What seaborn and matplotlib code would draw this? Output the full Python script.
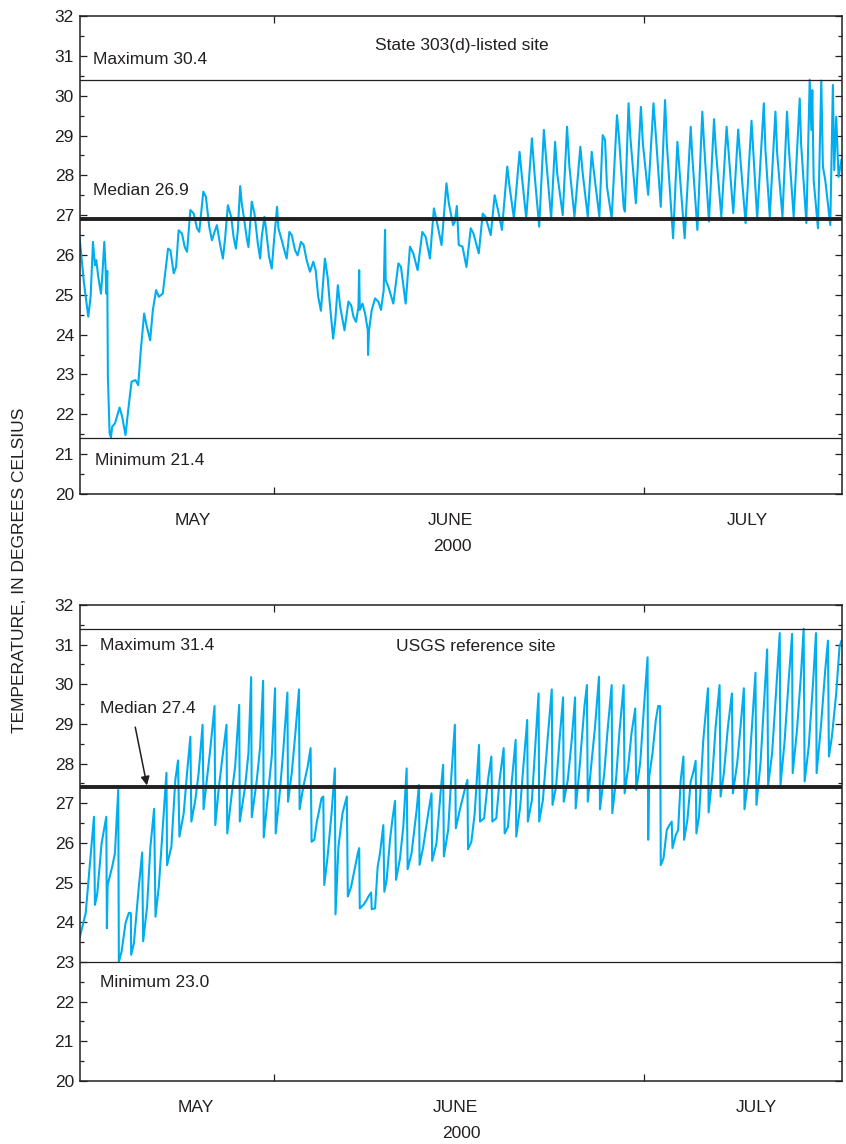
import matplotlib
matplotlib.use("Agg")
import matplotlib.pyplot as plt
import pandas as pd
import seaborn as sns
from matplotlib.ticker import MultipleLocator, FixedLocator, FixedFormatter

# Hourly water temperature, May 16 - July 17, 2000.
# Time is in days since 2000-05-16 00:00; temperature in degrees Celsius.

state_day = [
    0.20, 0.56, 0.91, 1.10, 1.29, 1.45, 1.56, 1.72, 1.94, 2.05,
    2.21, 2.31, 2.37, 2.45, 2.50, 2.64, 2.75, 2.85, 3.07, 3.45,
    3.66, 3.93, 4.15, 4.42, 4.74, 4.96, 5.17, 5.44, 5.66, 5.93,
    6.14, 6.41, 6.63, 6.95, 7.17, 7.38, 7.57, 7.84, 8.03, 8.24,
    8.51, 8.73, 8.92, 9.19, 9.46, 9.73, 9.91, 10.24, 10.45, 10.72,
    10.94, 11.15, 11.34, 11.61, 11.83, 12.02, 12.23, 12.50, 12.69, 12.88,
    13.04, 13.23, 13.36, 13.52, 13.77, 13.90, 14.17, 14.39, 14.66, 14.85,
    14.98, 15.20, 15.38, 15.57, 15.79, 16.00, 16.22, 16.33, 16.60, 16.81,
    17.00, 17.22, 17.41, 17.68, 17.89, 18.16, 18.38, 18.62, 18.89, 19.16,
    19.35, 19.56, 19.78, 20.10, 20.32, 20.50, 20.77, 20.94, 21.15, 21.34,
    21.69, 22.01, 22.23, 22.42, 22.63, 22.82, 22.88, 22.93, 23.15, 23.36,
    23.58, 23.60, 23.68, 23.90, 24.17, 24.44, 24.65, 24.87, 24.98, 25.03,
    25.25, 25.65, 26.06, 26.27, 26.65, 27.00, 27.27, 27.62, 28.00, 28.27,
    28.62, 28.94, 29.15, 29.56, 29.96, 30.15, 30.50, 30.64, 30.80, 30.96,
    31.26, 31.58, 31.93, 32.15, 32.58, 32.90, 33.12, 33.55, 33.87, 34.14,
    34.46, 34.89, 35.08, 35.43, 35.89, 36.08, 36.43, 36.89, 37.10, 37.48,
    37.86, 38.07, 38.45, 38.77, 38.94, 39.39, 39.74, 39.93, 40.34, 40.82,
    41.01, 41.42, 41.74, 41.90, 42.36, 42.63, 42.82, 42.98, 43.36, 43.79,
    43.95, 44.33, 44.43, 44.73, 44.87, 45.32, 45.73, 45.89, 46.32, 46.75,
    46.91, 47.34, 47.69, 47.83, 48.34, 48.69, 48.96, 49.28, 49.77, 49.90,
    50.31, 50.71, 50.85, 51.25, 51.66, 51.79, 52.25, 52.68, 52.87, 53.22,
    53.62, 53.76, 54.22, 54.70, 54.84, 55.16, 55.70, 55.83, 56.18, 56.64,
    56.78, 57.21, 57.58, 57.72, 58.12, 58.61, 58.72, 59.15, 59.42, 59.55,
    59.63, 59.74, 60.09, 60.36, 60.49, 60.68, 61.09, 61.30, 61.41, 61.57,
    61.76, 62.00,
]
state_temp = [
    26.46, 25.30, 24.45, 24.95, 26.33, 25.74, 25.87, 25.45, 25.03, 25.50,
    26.33, 25.70, 25.03, 25.60, 22.94, 21.52, 21.42, 21.69, 21.77, 22.17,
    21.94, 21.48, 22.11, 22.82, 22.86, 22.73, 23.61, 24.53, 24.20, 23.86,
    24.60, 25.12, 24.95, 25.03, 25.62, 26.16, 26.12, 25.54, 25.70, 26.62,
    26.54, 26.20, 26.08, 27.13, 27.04, 26.67, 26.58, 27.59, 27.46, 26.71,
    26.37, 26.58, 26.75, 26.25, 25.91, 26.46, 27.25, 26.96, 26.46, 26.16,
    26.62, 27.73, 27.29, 26.96, 26.41, 26.20, 27.34, 27.04, 26.29, 25.91,
    26.46, 26.96, 26.50, 25.96, 25.66, 26.46, 27.21, 26.67, 26.37, 26.12,
    25.91, 26.58, 26.50, 26.12, 25.99, 26.33, 26.25, 25.87, 25.58, 25.83,
    25.62, 24.95, 24.60, 25.91, 25.45, 24.78, 23.90, 24.35, 25.24, 24.70,
    24.11, 24.83, 24.74, 24.45, 24.32, 24.70, 25.62, 24.62, 24.78, 24.53,
    24.11, 23.49, 24.11, 24.62, 24.91, 24.83, 24.62, 25.12, 26.63, 25.37,
    25.20, 24.78, 25.79, 25.70, 24.78, 26.21, 26.04, 25.62, 26.58, 26.46,
    25.91, 27.17, 26.88, 26.25, 27.80, 27.30, 26.75, 26.84, 27.23, 26.25,
    26.21, 25.70, 26.67, 26.54, 26.04, 27.04, 26.96, 26.50, 27.50, 27.13,
    26.63, 28.22, 27.71, 26.92, 28.59, 27.96, 26.92, 28.93, 28.05, 26.71,
    29.14, 28.30, 26.92, 28.84, 28.05, 27.00, 29.22, 28.22, 26.96, 28.72,
    28.05, 26.96, 28.59, 28.13, 26.96, 29.01, 28.89, 27.71, 26.92, 29.51,
    28.97, 27.21, 27.09, 29.81, 28.97, 27.30, 29.72, 28.80, 27.51, 29.81,
    29.14, 27.21, 29.89, 28.80, 26.42, 28.84, 27.71, 26.42, 29.22, 28.47,
    26.63, 29.60, 28.80, 26.84, 29.41, 28.72, 26.96, 29.22, 28.47, 27.05,
    29.15, 28.55, 26.80, 29.37, 28.63, 26.92, 29.81, 28.63, 26.96, 29.60,
    28.55, 26.96, 29.60, 28.72, 26.96, 29.93, 28.80, 26.80, 30.40, 29.14,
    30.14, 27.88, 26.67, 30.38, 28.22, 27.88, 26.75, 30.27, 28.13, 29.47,
    27.96, 28.40,
]

usgs_day = [
    0.20, 0.70, 1.02, 1.37, 1.45, 1.64, 1.99, 2.37, 2.42, 2.48,
    2.85, 3.07, 3.34, 3.39, 3.61, 3.93, 4.20, 4.36, 4.39, 4.61,
    4.96, 5.28, 5.36, 5.68, 5.95, 6.25, 6.36, 6.63, 7.03, 7.25,
    7.30, 7.65, 7.97, 8.19, 8.30, 8.65, 8.92, 9.19, 9.27, 9.59,
    9.86, 10.18, 10.26, 10.53, 10.80, 11.15, 11.21, 11.48, 11.80, 12.12,
    12.18, 12.55, 12.82, 13.15, 13.20, 13.63, 13.90, 14.12, 14.17, 14.58,
    14.85, 15.09, 15.14, 15.52, 15.79, 16.06, 16.11, 16.46, 16.73, 17.06,
    17.11, 17.41, 17.68, 18.00, 18.05, 18.35, 18.70, 18.94, 19.02, 19.24,
    19.43, 19.83, 19.97, 20.05, 20.32, 20.64, 20.91, 20.96, 21.20, 21.53,
    21.88, 21.96, 22.23, 22.50, 22.77, 22.88, 22.93, 23.23, 23.50, 23.63,
    23.85, 23.90, 24.17, 24.38, 24.57, 24.84, 24.92, 25.11, 25.38, 25.57,
    25.79, 25.87, 26.19, 26.46, 26.73, 26.81, 27.13, 27.54, 27.73, 27.78,
    28.08, 28.48, 28.75, 28.80, 29.15, 29.50, 29.69, 29.75, 30.10, 30.37,
    30.64, 30.72, 31.04, 31.44, 31.66, 31.71, 31.98, 32.25, 32.60, 32.68,
    33.01, 33.33, 33.60, 33.68, 34.00, 34.27, 34.60, 34.68, 34.95, 35.27,
    35.57, 35.62, 35.94, 36.24, 36.51, 36.56, 36.89, 37.16, 37.43, 37.48,
    37.78, 38.18, 38.50, 38.56, 38.85, 39.15, 39.42, 39.47, 39.80, 40.12,
    40.39, 40.44, 40.74, 41.15, 41.35, 41.42, 41.69, 42.01, 42.33, 42.41,
    42.76, 43.03, 43.36, 43.41, 43.71, 43.98, 44.33, 44.41, 44.70, 44.97,
    45.27, 45.35, 45.67, 46.00, 46.27, 46.32, 46.40, 46.67, 46.94, 47.13,
    47.29, 47.34, 47.56, 47.83, 48.04, 48.23, 48.29, 48.56, 48.75, 48.96,
    49.18, 49.23, 49.50, 49.77, 49.99, 50.17, 50.23, 50.44, 50.79, 51.17,
    51.22, 51.52, 51.79, 52.11, 52.19, 52.46, 52.79, 53.11, 53.19, 53.54,
    53.81, 54.08, 54.13, 54.49, 54.75, 55.02, 55.10, 55.43, 55.70, 55.97,
    56.05, 56.37, 56.72, 56.99, 57.05, 57.37, 57.72, 57.99, 58.04, 58.39,
    58.72, 58.93, 59.01, 59.34, 59.69, 59.93, 59.98, 60.33, 60.68, 60.90,
    60.98, 61.22, 61.57, 61.84, 62.00,
]
usgs_temp = [
    23.60, 24.23, 25.40, 26.66, 24.44, 24.73, 25.99, 26.66, 23.85, 24.94,
    25.40, 25.74, 27.34, 23.00, 23.26, 23.98, 24.24, 24.23, 23.18, 23.47,
    24.73, 25.76, 23.52, 24.40, 25.91, 26.86, 24.14, 24.90, 26.75, 27.77,
    25.44, 25.91, 27.59, 28.08, 26.16, 26.75, 27.76, 28.68, 26.54, 27.08,
    27.76, 28.98, 26.85, 27.59, 28.35, 29.45, 26.45, 27.34, 28.18, 28.98,
    26.24, 27.25, 27.92, 29.48, 26.54, 27.42, 28.26, 30.18, 26.65, 27.59,
    28.43, 30.09, 26.14, 27.34, 28.18, 29.90, 26.24, 27.34, 28.35, 29.79,
    27.04, 27.76, 28.68, 29.87, 26.85, 27.42, 27.92, 28.39, 26.03, 26.08,
    26.50, 27.13, 27.17, 24.94, 25.66, 26.75, 27.88, 24.20, 25.91, 26.75,
    27.17, 24.65, 24.90, 25.32, 25.74, 25.87, 24.35, 24.44, 24.57, 24.65,
    24.75, 24.33, 24.35, 25.40, 25.74, 26.45, 24.77, 25.07, 26.08, 26.58,
    27.06, 25.07, 25.61, 26.41, 27.88, 25.34, 25.74, 26.83, 27.46, 25.45,
    25.91, 26.75, 27.25, 25.55, 25.99, 27.34, 27.97, 25.66, 26.33, 27.76,
    28.98, 26.37, 26.83, 27.34, 27.59, 25.84, 26.03, 26.75, 28.47, 26.54,
    26.62, 27.59, 28.18, 26.54, 26.62, 27.59, 28.39, 26.24, 26.41, 27.59,
    28.60, 26.16, 26.92, 28.09, 29.10, 26.54, 27.08, 28.43, 29.77, 26.54,
    27.08, 28.68, 29.87, 26.96, 27.42, 28.68, 29.67, 27.04, 27.59, 28.60,
    29.67, 26.87, 27.84, 29.44, 29.98, 27.04, 27.92, 28.93, 30.19, 26.85,
    27.76, 28.85, 29.98, 26.75, 27.59, 28.77, 29.98, 27.25, 27.92, 28.77,
    29.39, 27.34, 28.01, 29.52, 30.68, 26.08, 27.67, 28.26, 29.10, 29.45,
    29.45, 25.44, 25.61, 26.33, 26.45, 26.54, 25.87, 26.20, 26.33, 27.59,
    28.18, 26.08, 26.58, 27.55, 27.80, 28.07, 26.24, 26.66, 28.60, 29.90,
    26.77, 27.67, 28.93, 29.98, 27.17, 27.76, 28.93, 29.77, 27.25, 28.01,
    28.93, 29.90, 26.85, 27.76, 29.02, 30.29, 26.96, 28.01, 29.44, 30.88,
    27.46, 28.26, 29.94, 31.29, 27.46, 28.51, 30.11, 31.27, 27.76, 28.85,
    30.28, 31.40, 27.55, 28.43, 30.03, 31.29, 27.76, 28.93, 30.36, 31.10,
    28.18, 28.68, 29.77, 30.95, 31.10,
]

# Summary statistics for each site (maximum, median, minimum)
state_stats = [30.4, 26.9, 21.4]
usgs_stats = [31.4, 27.4, 23.0]

site_titles = ["State 303(d)-listed site", "USGS reference site"]
month_labels = ["MAY", "JUNE", "JULY"]
month_ticks = [16, 46]          # June 1 and July 1
year_label = "2000"

sns.set_theme(style="ticks")
plt.rcParams["font.family"] = ["Liberation Sans", "DejaVu Sans"]

INK = "#231f20"
WATER = "#00aeef"
FS = 12.5

fig = plt.figure(figsize=(8.46, 11.44), dpi=100)
ax_top = fig.add_axes([0.094, 0.5682, 0.9007, 0.4178])
ax_bot = fig.add_axes([0.094, 0.0551, 0.9007, 0.4161])


def draw_panel(ax, day, temp, stats, title, title_pos, text_pos, month_pos,
               year_x):
    df = pd.DataFrame({"day": day, "temp": temp})
    sns.lineplot(data=df, x="day", y="temp", ax=ax, color=WATER, lw=1.5,
                 estimator=None, sort=False, zorder=2)
    tmax, tmed, tmin = stats
    ax.axhline(tmax, color=INK, lw=0.9, zorder=3)
    ax.axhline(tmin, color=INK, lw=0.9, zorder=3)
    ax.axhline(tmed, color=INK, lw=2.8, zorder=4)

    ax.set_xlim(0.2, 62.0)
    ax.set_ylim(20, 32)
    ax.set_xlabel("")
    ax.set_ylabel("")

    ax.xaxis.set_major_locator(FixedLocator(month_ticks))
    ax.xaxis.set_major_formatter(FixedFormatter(["", ""]))
    ax.xaxis.set_minor_locator(FixedLocator(month_pos))
    ax.xaxis.set_minor_formatter(FixedFormatter(month_labels))
    ax.yaxis.set_major_locator(MultipleLocator(1))
    ax.yaxis.set_minor_locator(MultipleLocator(0.5))

    ax.tick_params(axis="both", which="major", direction="in", length=5,
                   width=0.9, color=INK, labelsize=FS, labelcolor=INK,
                   top=True, right=True, pad=4)
    ax.tick_params(axis="y", which="minor", direction="in", length=3,
                   width=0.9, color=INK, right=True, left=True)
    ax.tick_params(axis="x", which="minor", length=0, labelsize=FS,
                   labelcolor=INK, pad=14)

    for sp in ax.spines.values():
        sp.set_visible(True)
        sp.set_color(INK)
        sp.set_linewidth(1.1)

    ax.text(title_pos[0], title_pos[1], title, ha="center", va="center",
            fontsize=FS, color=INK)
    names = ["Maximum", "Median", "Minimum"]
    for name, val, (tx, ty) in zip(names, stats, text_pos):
        ax.text(tx, ty, f"{name} {val:.1f}", ha="left", va="center",
                fontsize=FS, color=INK)

    ax.annotate(year_label, xy=(year_x, 0), xycoords=("data", "axes fraction"),
                xytext=(0, -37.5), textcoords="offset points", ha="center",
                va="center", fontsize=FS, color=INK)


draw_panel(ax_top, state_day, state_temp, state_stats, site_titles[0],
           (31.2, 31.25), [(1.3, 30.9), (1.3, 27.63), (1.45, 20.83)],
           [9.4, 30.3, 54.4], 30.4)
draw_panel(ax_bot, usgs_day, usgs_temp, usgs_stats, site_titles[1],
           (32.35, 30.94), [(1.86, 30.99), (1.86, 29.40), (1.86, 22.47)],
           [9.65, 30.7, 55.1], 31.2)

# Arrow pointing from the median label to the median line
ax_bot.annotate("", xy=(5.67, usgs_stats[1] + 0.05), xytext=(4.72, 28.92),
                arrowprops=dict(arrowstyle="-|>", color=INK, lw=1.1,
                                mutation_scale=13, shrinkA=0, shrinkB=0),
                zorder=5)

fig.text(0.0236, 0.5017, "TEMPERATURE, IN DEGREES CELSIUS", rotation=90,
         ha="center", va="center", fontsize=FS, color=INK)

fig.savefig("out.png", dpi=100, facecolor="white")
